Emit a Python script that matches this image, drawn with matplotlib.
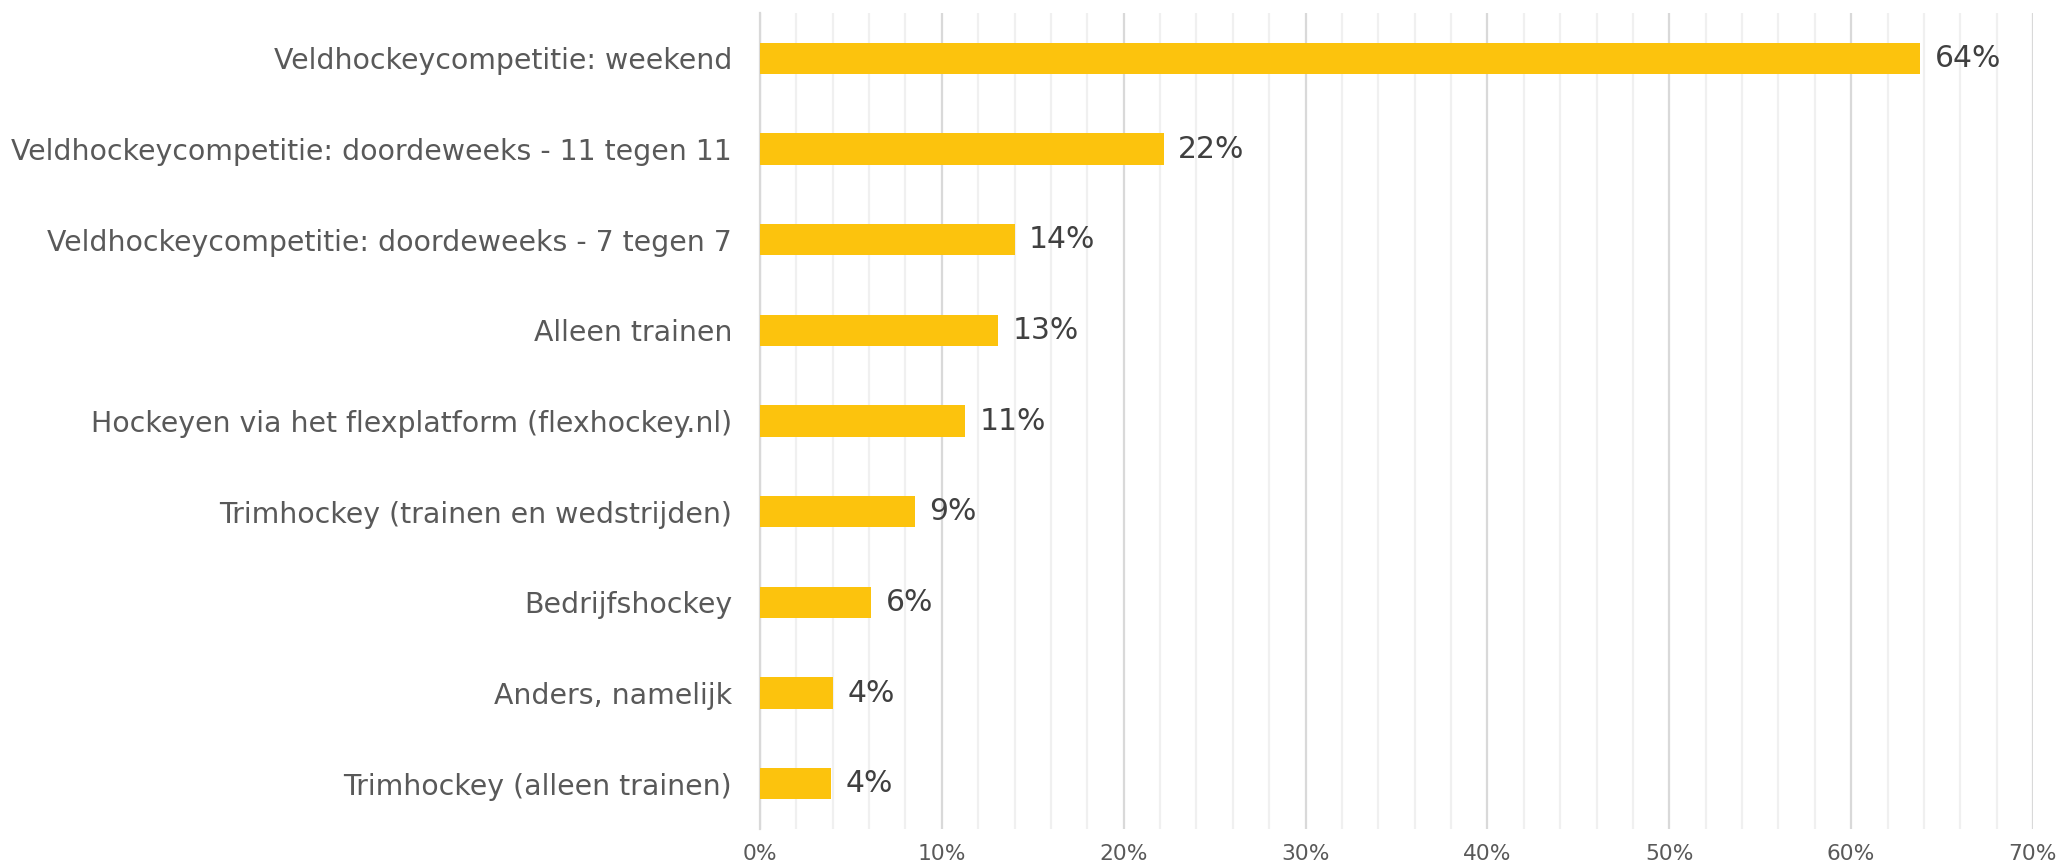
import matplotlib.pyplot as plt
from matplotlib.ticker import MultipleLocator, FuncFormatter

plt.rcParams["font.family"] = ["DejaVu Sans"]

# data
categories = [
    "Veldhockeycompetitie: weekend",
    "Veldhockeycompetitie: doordeweeks - 11 tegen 11",
    "Veldhockeycompetitie: doordeweeks - 7 tegen 7",
    "Alleen trainen",
    "Hockeyen via het flexplatform (flexhockey.nl)",
    "Trimhockey (trainen en wedstrijden)",
    "Bedrijfshockey",
    "Anders, namelijk",
    "Trimhockey (alleen trainen)",
]
values = [63.8, 22.2, 14.0, 13.1, 11.3, 8.5, 6.1, 4.0, 3.9]
value_labels = ["64%", "22%", "14%", "13%", "11%", "9%", "6%", "4%", "4%"]

fig = plt.figure(figsize=(20.59, 8.68), dpi=100)
ax = fig.add_axes([760 / 2059, (868 - 829) / 868, (2033 - 760) / 2059, (829 - 13) / 868])

y = list(range(len(categories)))
ax.barh(y, values, height=0.345, color="#FCC30D", zorder=3)

for yi, v, lab in zip(y, values, value_labels):
    ax.text(v + 0.8, yi, lab, va="center", ha="left", fontsize=21.5, color="#404040")

ax.set_yticks(y)
ax.set_yticklabels(categories, fontsize=20.4, color="#595959")
ax.set_ylim(len(categories) - 0.5, -0.5)
ax.set_xlim(0, 70)

ax.xaxis.set_major_locator(MultipleLocator(10))
ax.xaxis.set_minor_locator(MultipleLocator(2))
ax.xaxis.set_major_formatter(FuncFormatter(lambda x, p: f"{x:.0f}%"))
ax.grid(axis="x", which="major", color="#d9d9d9", linewidth=1.6, zorder=0)
ax.grid(axis="x", which="minor", color="#f0f0f0", linewidth=1.6, zorder=0)

ax.tick_params(axis="y", length=0, pad=20)
ax.tick_params(axis="x", which="both", length=0, pad=11, labelsize=15.7, labelcolor="#595959")

for s in ["top", "right", "bottom"]:
    ax.spines[s].set_visible(False)
ax.spines["left"].set_color("#d9d9d9")
ax.spines["left"].set_linewidth(1.6)

fig.savefig("out.png", dpi=100)
